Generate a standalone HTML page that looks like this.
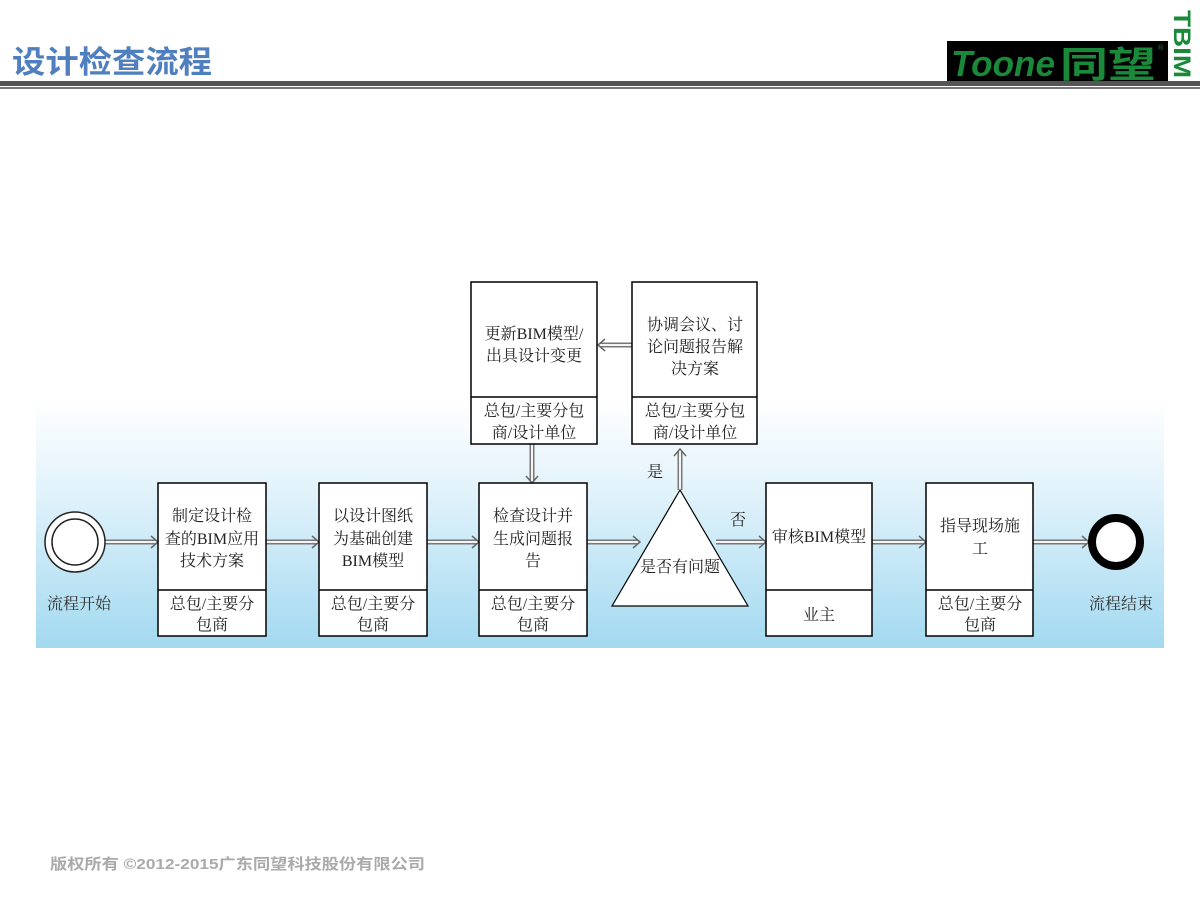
<!DOCTYPE html>
<html><head><meta charset="utf-8"><style>
html,body{margin:0;padding:0;background:#fff;}
svg{display:block;}
text{font-family:"Liberation Serif","Noto Serif CJK SC","Noto Sans CJK SC",serif;}
</style></head><body>
<svg width="1200" height="900" viewBox="0 0 1200 900" xmlns="http://www.w3.org/2000/svg">
<defs>
<linearGradient id="bg" x1="0" y1="0" x2="0" y2="1">
<stop offset="0" stop-color="#ffffff"/>
<stop offset="0.35" stop-color="#e3f3fb"/>
<stop offset="1" stop-color="#a3d9f0"/>
</linearGradient>
<g id="ah"><path d="M-7,-6 L0,0 L-7,6" fill="none" stroke="#666" stroke-width="1.5"/></g>
</defs>
<!-- header -->
<text x="12" y="73" font-size="31" font-weight="bold" fill="#4f7fbf" textLength="200" lengthAdjust="spacingAndGlyphs" style="font-family:'Liberation Sans','Noto Sans CJK SC',sans-serif">设计检查流程</text>
<rect x="0" y="81" width="1200" height="5" fill="#555"/>
<rect x="0" y="87" width="1200" height="2" fill="#777"/>
<rect x="947" y="41" width="221" height="40" fill="#000"/>
<text x="951" y="76" font-size="36" font-style="italic" font-weight="bold" fill="#1a8a3a" textLength="104" lengthAdjust="spacingAndGlyphs" style="font-family:'Liberation Sans',sans-serif">Toone</text>
<text x="1060" y="77" font-size="36" font-weight="bold" fill="#1a8a3a" textLength="96" lengthAdjust="spacingAndGlyphs" style="font-family:'Noto Sans CJK SC',sans-serif">同望</text>
<text x="1158" y="50" font-size="7" fill="#1a8a3a" style="font-family:'Liberation Sans',sans-serif">®</text>
<text x="1174" y="10" font-size="24" font-weight="bold" fill="#1a8a3a" transform="rotate(90 1174 10)" textLength="68" lengthAdjust="spacingAndGlyphs" style="font-family:'Liberation Sans',sans-serif">TBIM</text>
<!-- band -->
<rect x="36" y="400" width="1128" height="248" fill="url(#bg)"/>
<!-- arrows -->
<g stroke-linecap="butt">
<g stroke="#777" stroke-width="5"><line x1="105" y1="542" x2="156" y2="542"/><line x1="266" y1="542" x2="317" y2="542"/><line x1="427" y1="542" x2="477" y2="542"/><line x1="587" y1="542" x2="638" y2="542"/><line x1="716" y1="542" x2="764" y2="542"/><line x1="872" y1="542" x2="924" y2="542"/><line x1="1033" y1="542" x2="1086" y2="542"/>
<line x1="532" y1="444" x2="532" y2="481"/><line x1="680" y1="490" x2="680" y2="451"/><line x1="632" y1="345" x2="600" y2="345"/></g>
<g stroke="#f4f4f4" stroke-width="2"><line x1="105" y1="542" x2="156" y2="542"/><line x1="266" y1="542" x2="317" y2="542"/><line x1="427" y1="542" x2="477" y2="542"/><line x1="587" y1="542" x2="638" y2="542"/><line x1="716" y1="542" x2="764" y2="542"/><line x1="872" y1="542" x2="924" y2="542"/><line x1="1033" y1="542" x2="1086" y2="542"/>
<line x1="532" y1="444" x2="532" y2="481"/><line x1="680" y1="490" x2="680" y2="451"/><line x1="632" y1="345" x2="600" y2="345"/></g>
<use href="#ah" x="158" y="542"/><use href="#ah" x="319" y="542"/><use href="#ah" x="479" y="542"/><use href="#ah" x="640" y="542"/><use href="#ah" x="766" y="542"/><use href="#ah" x="926" y="542"/><use href="#ah" x="1089" y="542"/>
<use href="#ah" transform="translate(532 483) rotate(90)"/><use href="#ah" transform="translate(680 449) rotate(-90)"/><use href="#ah" transform="translate(598 345) rotate(180)"/>
</g>
<!-- start / end -->
<circle cx="75" cy="542" r="30" fill="#fff" stroke="#222" stroke-width="1.5"/>
<circle cx="75" cy="542" r="23" fill="#fff" stroke="#222" stroke-width="1.5"/>
<circle cx="1116" cy="542" r="24" fill="#fff" stroke="#000" stroke-width="8"/>
<g font-size="16" fill="#333" text-anchor="middle">
<text x="79" y="609">流程开始</text>
<text x="1121" y="609">流程结束</text>
</g>
<!-- boxes -->
<g fill="#fff" stroke="#000" stroke-width="1.5">
<rect x="158" y="483" width="108" height="153"/><line x1="158" y1="590" x2="266" y2="590"/>
<rect x="319" y="483" width="108" height="153"/><line x1="319" y1="590" x2="427" y2="590"/>
<rect x="479" y="483" width="108" height="153"/><line x1="479" y1="590" x2="587" y2="590"/>
<rect x="766" y="483" width="106" height="153"/><line x1="766" y1="590" x2="872" y2="590"/>
<rect x="926" y="483" width="107" height="153"/><line x1="926" y1="590" x2="1033" y2="590"/>
<rect x="471" y="282" width="126" height="162"/><line x1="471" y1="397" x2="597" y2="397"/>
<rect x="632" y="282" width="125" height="162"/><line x1="632" y1="397" x2="757" y2="397"/>
<polygon points="680,490 612,606 748,606" stroke-width="1.2"/>
</g>
<g font-size="16" fill="#222" text-anchor="middle">
<text x="212" y="521">制定设计检</text><text x="212" y="544">查的BIM应用</text><text x="212" y="566">技术方案</text>
<text x="212" y="609">总包/主要分</text><text x="212" y="630">包商</text>
<text x="373" y="521">以设计图纸</text><text x="373" y="544">为基础创建</text><text x="373" y="566">BIM模型</text>
<text x="373" y="609">总包/主要分</text><text x="373" y="630">包商</text>
<text x="533" y="521">检查设计并</text><text x="533" y="544">生成问题报</text><text x="533" y="566">告</text>
<text x="533" y="609">总包/主要分</text><text x="533" y="630">包商</text>
<text x="819" y="542">审核BIM模型</text>
<text x="819" y="620">业主</text>
<text x="980" y="531">指导现场施</text><text x="980" y="554">工</text>
<text x="980" y="609">总包/主要分</text><text x="980" y="630">包商</text>
<text x="534" y="339">更新BIM模型/</text><text x="534" y="361">出具设计变更</text>
<text x="534" y="416">总包/主要分包</text><text x="534" y="438">商/设计单位</text>
<text x="695" y="330">协调会议、讨</text><text x="695" y="352">论问题报告解</text><text x="695" y="374">决方案</text>
<text x="695" y="416">总包/主要分包</text><text x="695" y="438">商/设计单位</text>
<text x="680" y="572">是否有问题</text>
<text x="655" y="477">是</text>
<text x="738" y="525">否</text>
</g>
<text x="50" y="869" font-size="15" font-weight="bold" fill="#aaa" textLength="375" lengthAdjust="spacingAndGlyphs" style="font-family:'Liberation Sans','Noto Sans CJK SC',sans-serif">版权所有 ©2012-2015广东同望科技股份有限公司</text>
</svg>
</body></html>
